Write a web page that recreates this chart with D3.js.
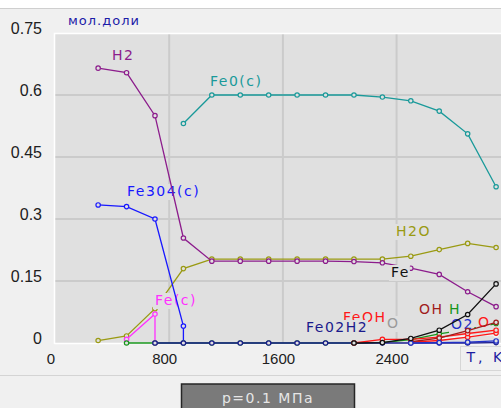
<!DOCTYPE html>
<html>
<head>
<meta charset="utf-8">
<script src="https://cdn.jsdelivr.net/npm/d3@7"></script>
<style>
  body { margin: 0; background: #fff; }
  svg { display: block; }
</style>
</head>
<body>
<svg id="chart" width="501" height="408"></svg>
<script>
// tick values
var xTicks = [0, 800, 1600, 2400];
var yTicks = [0, 0.15, 0.3, 0.45, 0.6, 0.75];

// series, [T (K), mole fraction]
var h2 = [[300, 0.665], [500, 0.654], [700, 0.55], [900, 0.254], [1100, 0.198], [1300, 0.198],
  [1500, 0.198], [1700, 0.198], [1900, 0.198], [2100, 0.197], [2300, 0.194], [2500, 0.181],
  [2700, 0.166], [2900, 0.124], [3100, 0.088]];
var feo = [[900, 0.531], [1100, 0.6], [1300, 0.6], [1500, 0.6], [1700, 0.6], [1900, 0.6],
  [2100, 0.6], [2300, 0.595], [2500, 0.586], [2700, 0.561], [2900, 0.506], [3100, 0.378]];
var fe3o4 = [[300, 0.334], [500, 0.33], [700, 0.3], [900, 0.041], [900, 0]];
var feC = [[500, 0.009], [700, 0.07], [700, 0]];
var h2o = [[300, 0.006], [500, 0.017], [700, 0.083], [900, 0.18], [1100, 0.203], [1300, 0.203],
  [1500, 0.203], [1700, 0.203], [1900, 0.203], [2100, 0.203], [2300, 0.203], [2500, 0.21],
  [2700, 0.226], [2900, 0.241], [3100, 0.231]];
var h = [[500, 0], [700, 0], [900, 0], [1100, 0], [1300, 0], [1500, 0], [1700, 0], [1900, 0],
  [2100, 0], [2300, 0.001], [2500, 0.008], [2700, 0.022], [2900, 0.033], [3100, 0.047]];
var feo2h2 = [[700, 0], [900, 0], [1100, 0], [1300, 0], [1500, 0], [1700, 0], [1900, 0],
  [2100, 0], [2300, 0], [2500, 0], [2700, 0], [2900, 0], [3100, 0.001]];
var feoh = [[2100, 0], [2300, 0.009], [2500, 0.009], [2700, 0.014], [2900, 0.023], [3100, 0.031]];
var o = [[2500, 0.002], [2700, 0.006], [2900, 0.014], [3100, 0.024]];
var oh = [[2500, 0.003], [2700, 0.012], [2900, 0.03], [3100, 0.05]];
var oLight = [[2500, 0.003], [2700, 0.009], [2900, 0.018], [3100, 0.02]];
var o2 = [[2500, 0], [2700, 0.001], [2900, 0.002], [3100, 0.005]];
var fe = [[2100, 0], [2300, 0.001], [2500, 0.011], [2700, 0.031], [2900, 0.069], [3100, 0.143]];

var PLOT_BG = "#e0e0e0";
var svg = d3.select("#chart");

var x = d3.scaleLinear().domain([0, 3200]).range([55.5, 510.3]);
var y = d3.scaleLinear().domain([0, 0.75]).range([343, 33]);

// window background
svg.append("rect").attr("width", 501).attr("height", 408).attr("fill", "#f0f0f0");
svg.append("rect").attr("width", 501).attr("height", 8).attr("fill", "#fff");
svg.append("line").attr("x1", 0).attr("x2", 501).attr("y1", 8.5).attr("y2", 8.5)
    .attr("stroke", "#cfcfcf");
svg.append("line").attr("x1", 0).attr("x2", 501).attr("y1", 375.5).attr("y2", 375.5)
    .attr("stroke", "#d4d4d4");

// plot area
svg.append("rect").attr("x", 55).attr("y", 33).attr("width", 446).attr("height", 310)
    .attr("fill", PLOT_BG);

var grid = svg.append("g");
grid.selectAll("line.gy").data(yTicks.slice(1, -1)).enter().append("line")
    .attr("x1", 55).attr("x2", 501)
    .attr("y1", function(d) { return y(d); }).attr("y2", function(d) { return y(d); })
    .attr("stroke", "#cbcbcb").attr("stroke-width", 2);
grid.selectAll("line.gx").data(xTicks.slice(1)).enter().append("line")
    .attr("x1", function(d) { return x(d); }).attr("x2", function(d) { return x(d); })
    .attr("y1", 33).attr("y2", 343)
    .attr("stroke", "#cbcbcb").attr("stroke-width", 2);

svg.append("path").attr("d", "M54.5,344V33.5H501M54.5,343.5H501")
    .attr("fill", "none").attr("stroke", "#fff").attr("stroke-width", 1.5);

// axes
var yAxis = svg.append("g").attr("transform", "translate(55.5,0)")
    .call(d3.axisLeft(y).tickValues(yTicks).tickSize(0).tickPadding(13.5)
        .tickFormat(function(d) { return d === 0 ? "0" : String(d); }));
yAxis.select(".domain").remove();
yAxis.selectAll("text").attr("dy", "0.06em")
    .style("font-family", "'Liberation Sans', Arial, sans-serif").style("font-size", "16px")
    .attr("fill", "#202020");

var xAxis = svg.append("g").attr("transform", "translate(0,343)")
    .call(d3.axisBottom(x).tickValues(xTicks).tickSize(0).tickPadding(10.3)
        .tickFormat(d3.format("d")));
xAxis.select(".domain").remove();
xAxis.selectAll("text").attr("dx", -5)
    .style("font-family", "'Liberation Sans', Arial, sans-serif").style("font-size", "15px")
    .attr("fill", "#202020");

svg.append("text").attr("x", 68).attr("y", 25).text("мол.доли")
    .attr("fill", "#1c1ca8").style("font-family", "'DejaVu Sans', sans-serif")
    .style("font-size", "13px").style("letter-spacing", "1px");

var line = d3.line().x(function(d) { return x(d[0]); }).y(function(d) { return y(d[1]); });

function drawSeries(data, color, markers) {
    var g = svg.append("g");
    g.append("path").datum(data).attr("d", line)
        .attr("fill", "none").attr("stroke", color).attr("stroke-width", 1.3);
    if (markers !== false) {
        g.selectAll("circle").data(data).enter().append("circle")
            .attr("cx", function(d) { return x(d[0]); })
            .attr("cy", function(d) { return y(d[1]); })
            .attr("r", 2.2).attr("fill", PLOT_BG).attr("stroke", color).attr("stroke-width", 1.2);
    }
}

// label with a box in the plot colour, hiding what was drawn before it
function label(text, lx, ly, color) {
    var g = svg.append("g");
    var bg = g.append("rect").attr("fill", PLOT_BG);
    var t = g.append("text").attr("x", lx).attr("y", ly).text(text).attr("fill", color)
        .style("font-family", "'DejaVu Sans', Verdana, sans-serif")
        .style("font-size", "14px").style("letter-spacing", "1.5px");
    var b = t.node().getBBox();
    bg.attr("x", b.x - 2).attr("y", b.y + 1).attr("width", b.width + 2).attr("height", b.height);
}

drawSeries(h2o, "#9a9a12");
label("Fe(c)", 155, 305, "#ff30ff");
drawSeries(feC, "#ff30ff");
drawSeries(fe3o4, "#1818ff");
label("Fe304(c)", 127, 196, "#1818ff");
drawSeries(h2, "#8c1c8c");
label("H2", 112, 60, "#8c1c8c");
drawSeries(feo, "#1a9a9a");
label("Fe0(c)", 210, 86, "#1a9a9a");
label("H2O", 396, 236, "#9a9a12");
label("Fe", 391, 277, "#101010");
drawSeries(h, "#18961c");
drawSeries(feo2h2, "#1a1a8c");
label("FeOH", 343, 322, "#ff1818");
label("Fe02H2", 306, 332, "#1a1a8c");
label("O", 387, 328, "#9a9a9a");
label("OH", 419, 314, "#a01c1c");
label("O2", 451, 329, "#2030c8");
label("H", 449, 314, "#18961c");
label("O", 478, 327, "#ff1818");
drawSeries(oLight, "#f6f6f6");
drawSeries(o, "#ff1818");
drawSeries(feoh, "#ff1818");
drawSeries(oh, "#a01c1c");
drawSeries(o2, "#2030c8");
drawSeries(fe, "#101010");

// axis name box
svg.append("rect").attr("x", 460.5).attr("y", 346.5).attr("width", 50).attr("height", 24)
    .attr("fill", "#f0f0f0").attr("stroke", "#d6d6d6");
svg.append("text").attr("x", 466.5).attr("y", 362).text("T, K").attr("fill", "#1c1ca0")
    .style("font-family", "'DejaVu Sans', sans-serif").style("font-size", "14px")
    .style("letter-spacing", "3px");

// pressure box
svg.append("rect").attr("x", 181.5).attr("y", 384).attr("width", 173).attr("height", 30)
    .attr("fill", "#7a7a7a").attr("stroke", "#262626").attr("stroke-width", 1.5);
svg.append("text").attr("x", 268).attr("y", 403).attr("text-anchor", "middle")
    .text("p=0.1 МПа").attr("fill", "#e6e6e6")
    .style("font-family", "'DejaVu Sans', sans-serif").style("font-size", "14px")
    .style("letter-spacing", "1.5px");
</script>
</body>
</html>
